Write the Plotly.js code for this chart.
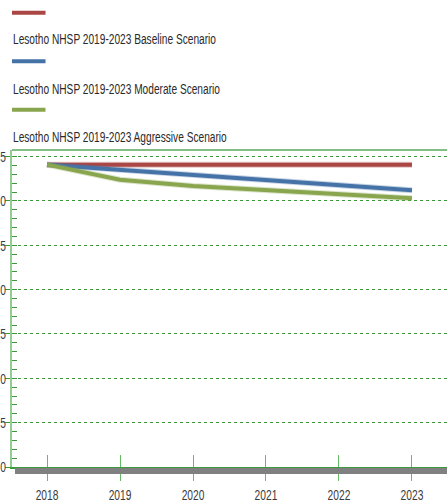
<!DOCTYPE html>
<html><head><meta charset="utf-8">
<script src="https://cdn.plot.ly/plotly-3.0.1.min.js"></script>
<style>html,body{margin:0;padding:0;background:#fff;overflow:hidden}#chart{width:447px;height:501px}</style>
</head><body><div id="chart"></div>
<script>
const years = [2018, 2019, 2020, 2021, 2022, 2023];
const baselineValues = [34.1, 34.1, 34.1, 34.1, 34.1, 34.1];
const moderateValues = [34.1, 33.5, 32.9, 32.4, 31.8, 31.2];
const aggressiveValues = [34.1, 32.4, 31.7, 31.2, 30.7, 30.3];
const seriesNames = [
  "Lesotho NHSP 2019-2023 Baseline Scenario",
  "Lesotho NHSP 2019-2023 Moderate Scenario",
  "Lesotho NHSP 2019-2023 Aggressive Scenario"
];
const seriesColors = ["#AA4643", "#4572A7", "#89A54E"];
const seriesValues = [baselineValues, moderateValues, aggressiveValues];
const yTickVals = [0, 5, 10, 15, 20, 25, 30, 35];

const FONT = "'Liberation Sans', Arial, sans-serif";
const FS = 15.5;
const W = 447, H = 501, ML = 12, MR = 0, MT = 150, MB = 34;
const PW = W - ML - MR, PH = H - MT - MB;
const px2x = p => (p - ML) / PW;
const py2y = p => (H - MB - p) / PH;

const traces = [];
seriesValues.forEach((vals, i) => {
  traces.push({type:'scatter', mode:'lines', x:years, y:vals, line:{color:seriesColors[i], width:6}, opacity:0.3, showlegend:false, hoverinfo:'skip'});
  traces.push({type:'scatter', mode:'lines', x:years, y:vals, name:seriesNames[i], line:{color:seriesColors[i], width:4}, showlegend:false, hoverinfo:'skip'});
});
traces.push({type:'scatter', mode:'lines', x:[years[0]], y:[0], xaxis:'x2', yaxis:'y', showlegend:false, hoverinfo:'skip', line:{color:'rgba(0,0,0,0)'}});

const shapes = [];
const annotations = [];
const legendLineY = [12.7, 61.3, 109.7];
const legendTextY = [39.0, 88.0, 136.3];
seriesNames.forEach((n, i) => {
  shapes.push({type:'line', xref:'paper', yref:'paper', x0:px2x(12), x1:px2x(45.5), y0:py2y(legendLineY[i]), y1:py2y(legendLineY[i]), line:{color:seriesColors[i], width:4}});
  annotations.push({xref:'paper', yref:'paper', x:px2x(11.5), y:py2y(legendTextY[i]), xanchor:'left', yanchor:'middle', text:n, showarrow:false, borderpad:0, font:{family:FONT, size:FS, color:'#2a2a2a'}});
});
shapes.push({type:'line', xref:'paper', yref:'paper', x0:0, x1:1, y0:1, y1:1, line:{color:'#5aaa5a', width:1.5}});
shapes.push({type:'rect', xref:'paper', yref:'paper', x0:px2x(15), x1:1, y0:py2y(474), y1:py2y(468), fillcolor:'#808080', line:{width:0}, layer:'above'});

const layout = {
  width: W, height: H,
  margin: {l: ML, r: MR, t: MT, b: MB, pad: 0},
  paper_bgcolor: '#fff', plot_bgcolor: '#fff',
  font: {family: FONT, size: FS, color: '#444'},
  xaxis: {
    range: [2017.52, 2023.48], tickvals: years, ticktext: years.map(String),
    showgrid: false, zeroline: false, showline: true, linecolor: '#3c9a3c', linewidth: 2,
    ticks: 'outside', ticklen: 12, tickcolor: '#66bb66', tickwidth: 1,
    tickfont: {family: FONT, size: FS, color: '#3a3a3a'}
  },
  xaxis2: {
    overlaying: 'x', anchor: 'y', side: 'bottom', range: [2017.52, 2023.48], tickvals: years,
    showticklabels: false, showgrid: false, zeroline: false, showline: false,
    ticks: 'inside', ticklen: 12, tickcolor: '#66bb66', tickwidth: 1
  },
  yaxis: {
    range: [0, 35.75], tickvals: yTickVals, ticktext: yTickVals.map(String),
    showgrid: true, gridcolor: '#3a9a3a', griddash: '3px,3px', gridwidth: 1,
    zeroline: false, showline: true, linecolor: 'rgba(120,190,120,0.8)', linewidth: 2,
    ticks: 'outside', ticklen: 5, tickcolor: '#3a9a3a', ticklabelstandoff: -4,
    tickfont: {family: FONT, size: FS, color: '#3a3a3a'},
    minor: {dtick: 1, ticks: 'inside', ticklen: 5, tickcolor: '#3a9a3a', showgrid: false}
  },
  shapes: shapes,
  annotations: annotations
};

function compress(selector, ratio, keepLeft) {
  document.querySelectorAll(selector).forEach(t => {
    const len = t.getComputedTextLength();
    if (len > 0) {
      if (keepLeft) {
        const anchor = t.getAttribute('text-anchor') || getComputedStyle(t).textAnchor;
        const x = parseFloat(t.getAttribute('x') || '0');
        let left = x;
        if (anchor === 'middle') left = x - len / 2;
        else if (anchor === 'end') left = x - len;
        t.setAttribute('x', left.toFixed(2));
        t.setAttribute('text-anchor', 'start');
        t.style.textAnchor = 'start';
      }
      t.setAttribute('textLength', (len * ratio).toFixed(2));
      t.setAttribute('lengthAdjust', 'spacingAndGlyphs');
    }
  });
}
Plotly.newPlot('chart', traces, layout, {displayModeBar: false, staticPlot: true}).then(() => {
  compress('#chart .annotation-text', 0.655, true);
  compress('#chart .xtick text', 0.66, false);
  compress('#chart .ytick text', 0.66, false);
});
</script></body></html>
